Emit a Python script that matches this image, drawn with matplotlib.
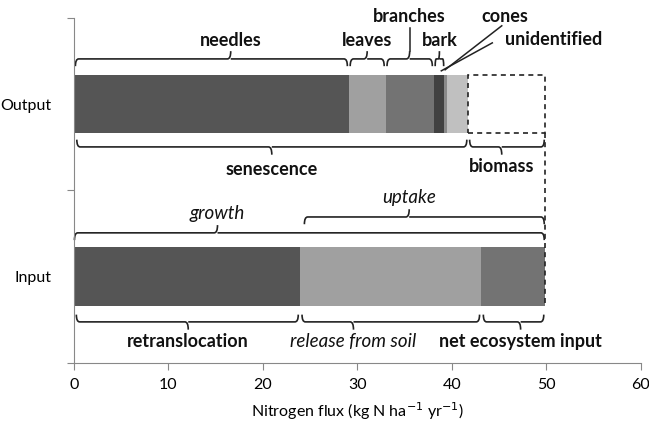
import numpy as np
import matplotlib.pyplot as plt
from matplotlib.path import Path
from matplotlib.patches import PathPatch, Rectangle

plt.rcParams['font.family'] = ['Lato', 'DejaVu Sans']

# nitrogen fluxes (kg N ha-1 yr-1)
out_names = ['needles', 'leaves', 'branches', 'bark', 'cones', 'unidentified']
out_values = [29.1, 3.9, 5.1, 1.1, 0.3, 2.2]
out_colors = ['#555555', '#a0a0a0', '#737373', '#414141', '#8a8a8a', '#c0c0c0']
biomass = 8.2

in_names = ['retranslocation', 'release from soil', 'net ecosystem input']
in_values = [23.9, 19.2, 6.8]
in_colors = ['#555555', '#a0a0a0', '#737373']

categories = ['Input', 'Output']
xticks = [0, 10, 20, 30, 40, 50, 60]

fig = plt.figure(figsize=(6.49, 4.25), dpi=100)
ax = fig.add_axes([0.114, 0.146, 0.873, 0.812])
bh = 0.34


def brace(x0, x1, y, up=True, xc=None, hook=0.042, tip=0.045, r=0.35, lw=1.2):
    # curly brace, ends bend towards the bar, tip points away from it
    s = 1 if up else -1
    if xc is None:
        xc = (x0 + x1) / 2
    yt = y + s * tip
    ye = y - s * hook
    verts = [(x0, ye), (x0, y), (x0 + r, y),
             (xc - r, y), (xc, y), (xc, yt),
             (xc, y), (xc + r, y),
             (x1 - r, y), (x1, y), (x1, ye)]
    codes = [Path.MOVETO, Path.CURVE3, Path.CURVE3,
             Path.LINETO, Path.CURVE3, Path.CURVE3,
             Path.MOVETO, Path.CURVE3,
             Path.LINETO, Path.CURVE3, Path.CURVE3]
    ax.add_patch(PathPatch(Path(verts, codes), fill=False, lw=lw,
                           color='#222222', clip_on=False))
    return xc, yt


# bars
left = 0
for v, c in zip(out_values, out_colors):
    ax.barh(1, v, left=left, height=bh, color=c, lw=0)
    left += v
out_total = left
left = 0
for v, c in zip(in_values, in_colors):
    ax.barh(0, v, left=left, height=bh, color=c, lw=0)
    left += v
in_total = left

# biomass dashed box and line
ax.add_patch(Rectangle((out_total, 1 - bh / 2), biomass, bh, fill=False,
                       ls=(0, (3, 2.5)), lw=1.2, color='#222222'))
ax.plot([out_total + biomass] * 2, [1 - bh / 2, -bh / 2], ls=(0, (3, 2.5)),
        lw=1.2, color='#222222')

bold = dict(fontsize=13, fontweight='bold', ha='center', va='center', color='#111111')
ital = dict(fontsize=13.5, style='italic', ha='center', va='center', color='#111111')

# output top braces
g = 0.15
edges = np.concatenate([[0], np.cumsum(out_values)])
y_top = 1.262
brace(edges[0] + g, edges[1] - g, y_top, xc=16.6)
ax.text(16.6, 1.367, out_names[0], **bold)
xc, yt = brace(edges[1] + g, edges[2] - g, y_top)
ax.text(xc, 1.367, out_names[1], **bold)
xc, yt = brace(edges[2] + g, edges[3] - g, y_top)
ax.plot([xc, xc], [yt, 1.44], color='#222222', lw=1.1, clip_on=False)
ax.text(xc, 1.506, out_names[2], clip_on=False, **bold)
xc, yt = brace(edges[3] + g, edges[4] - 0.05, y_top, r=0.12)
ax.text(xc, 1.367, out_names[3], **bold)
ax.plot([edges[4] + 0.1, 45.3], [1.199, 1.454], color='#222222', lw=1.1, clip_on=False)
ax.text(45.6, 1.506, out_names[4], clip_on=False, **bold)
ax.plot([edges[5] - 0.6, 44.3], [1.193, 1.355], color='#222222', lw=1.1, clip_on=False)
ax.text(50.8, 1.372, out_names[5], **bold)

# output bottom braces
xc, yt = brace(0.3, out_total - 0.1, 0.752, up=False)
ax.text(xc, 0.619, 'senescence', **bold)
xc, yt = brace(out_total + 0.2, out_total + biomass - 0.1, 0.752, up=False, xc=45.3)
ax.text(xc, 0.636, 'biomass', **bold)

# input top braces
brace(0.05, in_total - 0.1, 0.254, xc=15.2)
ax.text(15.2, 0.364, 'growth', **ital)
brace(24.4, in_total - 0.1, 0.346, xc=35.5)
ax.text(35.5, 0.457, 'uptake', **ital)

# input bottom braces
edges = np.concatenate([[0], np.cumsum(in_values)])
tips = [12.1, 29.6, 47.3]
styles = [bold, ital, bold]
for i in range(3):
    brace(edges[i] + g + 0.1, edges[i + 1] - g, -0.262, up=False, xc=tips[i])
    ax.text(tips[i], -0.378, in_names[i], **styles[i])

# axes styling
ax.set_xlim(0, 60)
ax.set_ylim(-0.5, 1.5)
ax.set_xticks(xticks)
ax.set_yticks([-0.5, 0.5, 1.5])
ax.set_yticklabels([])
ax.set_yticks([0, 1], minor=True)
ax.set_yticklabels(categories, minor=True)
ax.tick_params(axis='y', which='minor', length=0, pad=16, labelsize=11.5)
ax.tick_params(axis='y', which='major', length=5, color='#888888', direction='out')
ax.tick_params(axis='x', length=5, color='#888888', labelsize=11.5, pad=6)
for s in ['top', 'right']:
    ax.spines[s].set_visible(False)
for s in ['left', 'bottom']:
    ax.spines[s].set_color('#888888')
ax.set_xlabel('Nitrogen flux (kg N ha$^{-1}$ yr$^{-1}$)', fontsize=11.5, labelpad=6)

fig.savefig('out.png', dpi=100)
